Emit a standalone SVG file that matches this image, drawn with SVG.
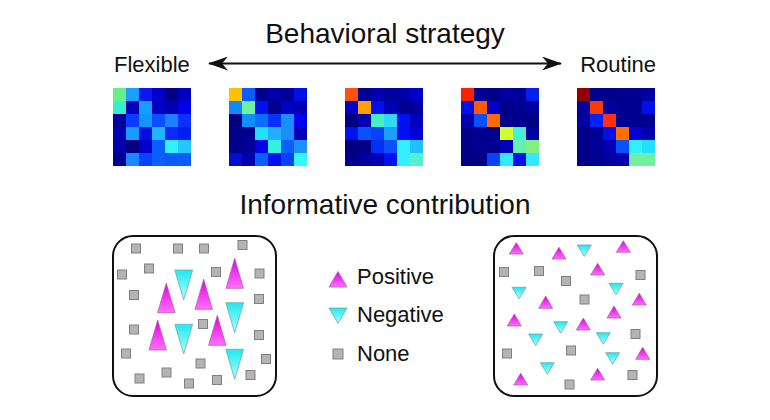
<svg xmlns="http://www.w3.org/2000/svg" width="770" height="420" viewBox="0 0 770 420">
<defs>
<style>
text{font-family:"Liberation Sans",Arial,sans-serif;fill:#111}
.t1{font-size:28px}
.t2{font-size:22px}
.frame{fill:#fff;stroke:#111;stroke-width:2}
.pos{fill:url(#gPos);stroke:#b060b0;stroke-width:0.8}
.neg{fill:url(#gNeg);stroke:#70a8a8;stroke-width:0.8}
.non{fill:#b4b4b4;stroke:#808080;stroke-width:1}
.hm rect{stroke:none}
.hmb{fill:none;stroke:#c8c8c8;stroke-width:0.8}
.conn{stroke:#111;stroke-width:2;fill:none}
</style>
<linearGradient id="gPos" x1="0" y1="0" x2="0" y2="1">
<stop offset="0" stop-color="#e000e0"/><stop offset="1" stop-color="#ff70ff"/>
</linearGradient>
<linearGradient id="gNeg" x1="0" y1="0" x2="0" y2="1">
<stop offset="0" stop-color="#20e8f0"/><stop offset="1" stop-color="#b0ffff"/>
</linearGradient>
<marker id="ah" markerUnits="userSpaceOnUse" markerWidth="20" markerHeight="14" refX="19" refY="7" orient="auto-start-reverse">
<path d="M0,0 L20,7 L0,14 L6,7 Z" fill="#111"/>
</marker>
</defs>
<rect width="770" height="420" fill="#fff"/>

<g id="title-strategy"><text class="t1" x="385" y="43" text-anchor="middle">Behavioral strategy</text></g>
<g id="label-flexible"><text class="t2" x="114" y="72">Flexible</text></g>
<g id="label-routine"><text class="t2" x="656" y="72" text-anchor="end">Routine</text></g>

<g id="connectors">
<line class="conn" x1="209" y1="63.5" x2="561" y2="63.5" marker-start="url(#ah)" marker-end="url(#ah)"/>
</g>

<g id="heatmap1" class="hm" transform="translate(113,88)">
<rect x="0" y="0" width="13" height="13" fill="#66ee88"/><rect x="13" y="0" width="13" height="13" fill="#1aa0ff"/><rect x="26" y="0" width="13" height="13" fill="#0a18f0"/><rect x="39" y="0" width="13" height="13" fill="#0000c8"/><rect x="52" y="0" width="13" height="13" fill="#000088"/><rect x="65" y="0" width="13" height="13" fill="#0000c0"/>
<rect x="0" y="13" width="13" height="13" fill="#33f0cc"/><rect x="13" y="13" width="13" height="13" fill="#0000b8"/><rect x="26" y="13" width="13" height="13" fill="#14a0ff"/><rect x="39" y="13" width="13" height="13" fill="#0000c0"/><rect x="52" y="13" width="13" height="13" fill="#0000b4"/><rect x="65" y="13" width="13" height="13" fill="#0000e6"/>
<rect x="0" y="26" width="13" height="13" fill="#00009c"/><rect x="13" y="26" width="13" height="13" fill="#0a3cff"/><rect x="26" y="26" width="13" height="13" fill="#1494ff"/><rect x="39" y="26" width="13" height="13" fill="#0a50ff"/><rect x="52" y="26" width="13" height="13" fill="#1a80ff"/><rect x="65" y="26" width="13" height="13" fill="#0830ff"/>
<rect x="0" y="39" width="13" height="13" fill="#0000b4"/><rect x="13" y="39" width="13" height="13" fill="#1a9cff"/><rect x="26" y="39" width="13" height="13" fill="#0010e0"/><rect x="39" y="39" width="13" height="13" fill="#22b4ff"/><rect x="52" y="39" width="13" height="13" fill="#0a28ff"/><rect x="65" y="39" width="13" height="13" fill="#0020f0"/>
<rect x="0" y="52" width="13" height="13" fill="#0000a8"/><rect x="13" y="52" width="13" height="13" fill="#000080"/><rect x="26" y="52" width="13" height="13" fill="#0000c8"/><rect x="39" y="52" width="13" height="13" fill="#0a60ff"/><rect x="52" y="52" width="13" height="13" fill="#33f0ff"/><rect x="65" y="52" width="13" height="13" fill="#22c8ff"/>
<rect x="0" y="65" width="13" height="13" fill="#000090"/><rect x="13" y="65" width="13" height="13" fill="#1a88ff"/><rect x="26" y="65" width="13" height="13" fill="#0a40ff"/><rect x="39" y="65" width="13" height="13" fill="#0a60ff"/><rect x="52" y="65" width="13" height="13" fill="#0a58ff"/><rect x="65" y="65" width="13" height="13" fill="#0a5cff"/>
<rect class="hmb" x="0" y="0" width="78" height="78"/>
</g>

<g id="heatmap2" class="hm" transform="translate(229,88)">
<rect x="0" y="0" width="13" height="13" fill="#ffc000"/><rect x="13" y="0" width="13" height="13" fill="#0a5cff"/><rect x="26" y="0" width="13" height="13" fill="#000090"/><rect x="39" y="0" width="13" height="13" fill="#0000a8"/><rect x="52" y="0" width="13" height="13" fill="#000098"/><rect x="65" y="0" width="13" height="13" fill="#0010e8"/>
<rect x="0" y="13" width="13" height="13" fill="#1088ff"/><rect x="13" y="13" width="13" height="13" fill="#70f0a0"/><rect x="26" y="13" width="13" height="13" fill="#0010f0"/><rect x="39" y="13" width="13" height="13" fill="#000090"/><rect x="52" y="13" width="13" height="13" fill="#0000c8"/><rect x="65" y="13" width="13" height="13" fill="#0000b0"/>
<rect x="0" y="26" width="13" height="13" fill="#000080"/><rect x="13" y="26" width="13" height="13" fill="#1090ff"/><rect x="26" y="26" width="13" height="13" fill="#0a70ff"/><rect x="39" y="26" width="13" height="13" fill="#0a30ff"/><rect x="52" y="26" width="13" height="13" fill="#1a90ff"/><rect x="65" y="26" width="13" height="13" fill="#0000f0"/>
<rect x="0" y="39" width="13" height="13" fill="#000088"/><rect x="13" y="39" width="13" height="13" fill="#000090"/><rect x="26" y="39" width="13" height="13" fill="#22e0ff"/><rect x="39" y="39" width="13" height="13" fill="#20b0ff"/><rect x="52" y="39" width="13" height="13" fill="#1a90ff"/><rect x="65" y="39" width="13" height="13" fill="#0000b8"/>
<rect x="0" y="52" width="13" height="13" fill="#000088"/><rect x="13" y="52" width="13" height="13" fill="#000098"/><rect x="26" y="52" width="13" height="13" fill="#0000e8"/><rect x="39" y="52" width="13" height="13" fill="#33f0e0"/><rect x="52" y="52" width="13" height="13" fill="#0a60ff"/><rect x="65" y="52" width="13" height="13" fill="#1a90ff"/>
<rect x="0" y="65" width="13" height="13" fill="#0010d0"/><rect x="13" y="65" width="13" height="13" fill="#0000b0"/><rect x="26" y="65" width="13" height="13" fill="#0a60ff"/><rect x="39" y="65" width="13" height="13" fill="#0010f0"/><rect x="52" y="65" width="13" height="13" fill="#0a40ff"/><rect x="65" y="65" width="13" height="13" fill="#33f8ff"/>
<rect class="hmb" x="0" y="0" width="78" height="78"/>
</g>

<g id="heatmap3" class="hm" transform="translate(345,88)">
<rect x="0" y="0" width="13" height="13" fill="#ff5010"/><rect x="13" y="0" width="13" height="13" fill="#000090"/><rect x="26" y="0" width="13" height="13" fill="#0000b0"/><rect x="39" y="0" width="13" height="13" fill="#0000a0"/><rect x="52" y="0" width="13" height="13" fill="#0000a8"/><rect x="65" y="0" width="13" height="13" fill="#0000c8"/>
<rect x="0" y="13" width="13" height="13" fill="#0000c8"/><rect x="13" y="13" width="13" height="13" fill="#ffa000"/><rect x="26" y="13" width="13" height="13" fill="#0010f0"/><rect x="39" y="13" width="13" height="13" fill="#0000b8"/><rect x="52" y="13" width="13" height="13" fill="#000090"/><rect x="65" y="13" width="13" height="13" fill="#000098"/>
<rect x="0" y="26" width="13" height="13" fill="#000080"/><rect x="13" y="26" width="13" height="13" fill="#0000b0"/><rect x="26" y="26" width="13" height="13" fill="#44f0c0"/><rect x="39" y="26" width="13" height="13" fill="#30d8ff"/><rect x="52" y="26" width="13" height="13" fill="#0010f0"/><rect x="65" y="26" width="13" height="13" fill="#0000c0"/>
<rect x="0" y="39" width="13" height="13" fill="#0010f0"/><rect x="13" y="39" width="13" height="13" fill="#0a50ff"/><rect x="26" y="39" width="13" height="13" fill="#0a40ff"/><rect x="39" y="39" width="13" height="13" fill="#1aa0ff"/><rect x="52" y="39" width="13" height="13" fill="#0010f0"/><rect x="65" y="39" width="13" height="13" fill="#0000d8"/>
<rect x="0" y="52" width="13" height="13" fill="#000080"/><rect x="13" y="52" width="13" height="13" fill="#000088"/><rect x="26" y="52" width="13" height="13" fill="#0030f0"/><rect x="39" y="52" width="13" height="13" fill="#0a50ff"/><rect x="52" y="52" width="13" height="13" fill="#33f0ff"/><rect x="65" y="52" width="13" height="13" fill="#20c0ff"/>
<rect x="0" y="65" width="13" height="13" fill="#000088"/><rect x="13" y="65" width="13" height="13" fill="#0000a0"/><rect x="26" y="65" width="13" height="13" fill="#0000b8"/><rect x="39" y="65" width="13" height="13" fill="#0010f0"/><rect x="52" y="65" width="13" height="13" fill="#33f0ff"/><rect x="65" y="65" width="13" height="13" fill="#55f0d0"/>
<rect class="hmb" x="0" y="0" width="78" height="78"/>
</g>

<g id="heatmap4" class="hm" transform="translate(461,88)">
<rect x="0" y="0" width="13" height="13" fill="#ff2000"/><rect x="13" y="0" width="13" height="13" fill="#000090"/><rect x="26" y="0" width="13" height="13" fill="#000088"/><rect x="39" y="0" width="13" height="13" fill="#0000a0"/><rect x="52" y="0" width="13" height="13" fill="#000098"/><rect x="65" y="0" width="13" height="13" fill="#0020f0"/>
<rect x="0" y="13" width="13" height="13" fill="#0010e8"/><rect x="13" y="13" width="13" height="13" fill="#ff5a00"/><rect x="26" y="13" width="13" height="13" fill="#0000c8"/><rect x="39" y="13" width="13" height="13" fill="#000088"/><rect x="52" y="13" width="13" height="13" fill="#000090"/><rect x="65" y="13" width="13" height="13" fill="#0000a0"/>
<rect x="0" y="26" width="13" height="13" fill="#0000b0"/><rect x="13" y="26" width="13" height="13" fill="#0a50ff"/><rect x="26" y="26" width="13" height="13" fill="#ff6a00"/><rect x="39" y="26" width="13" height="13" fill="#000088"/><rect x="52" y="26" width="13" height="13" fill="#000090"/><rect x="65" y="26" width="13" height="13" fill="#000080"/>
<rect x="0" y="39" width="13" height="13" fill="#000088"/><rect x="13" y="39" width="13" height="13" fill="#000090"/><rect x="26" y="39" width="13" height="13" fill="#000090"/><rect x="39" y="39" width="13" height="13" fill="#d0ff30"/><rect x="52" y="39" width="13" height="13" fill="#44f0d0"/><rect x="65" y="39" width="13" height="13" fill="#0000a0"/>
<rect x="0" y="52" width="13" height="13" fill="#000088"/><rect x="13" y="52" width="13" height="13" fill="#000090"/><rect x="26" y="52" width="13" height="13" fill="#000090"/><rect x="39" y="52" width="13" height="13" fill="#0000b8"/><rect x="52" y="52" width="13" height="13" fill="#66f0b0"/><rect x="65" y="52" width="13" height="13" fill="#80f080"/>
<rect x="0" y="65" width="13" height="13" fill="#000088"/><rect x="13" y="65" width="13" height="13" fill="#000088"/><rect x="26" y="65" width="13" height="13" fill="#0a40ff"/><rect x="39" y="65" width="13" height="13" fill="#33e8ff"/><rect x="52" y="65" width="13" height="13" fill="#0010f0"/><rect x="65" y="65" width="13" height="13" fill="#33e8ff"/>
<rect class="hmb" x="0" y="0" width="78" height="78"/>
</g>

<g id="heatmap5" class="hm" transform="translate(577,88)">
<rect x="0" y="0" width="13" height="13" fill="#900000"/><rect x="13" y="0" width="13" height="13" fill="#000090"/><rect x="26" y="0" width="13" height="13" fill="#000088"/><rect x="39" y="0" width="13" height="13" fill="#000090"/><rect x="52" y="0" width="13" height="13" fill="#000090"/><rect x="65" y="0" width="13" height="13" fill="#0000a0"/>
<rect x="0" y="13" width="13" height="13" fill="#0000a0"/><rect x="13" y="13" width="13" height="13" fill="#ff3a00"/><rect x="26" y="13" width="13" height="13" fill="#0000a0"/><rect x="39" y="13" width="13" height="13" fill="#000090"/><rect x="52" y="13" width="13" height="13" fill="#000090"/><rect x="65" y="13" width="13" height="13" fill="#0010e8"/>
<rect x="0" y="26" width="13" height="13" fill="#0000a0"/><rect x="13" y="26" width="13" height="13" fill="#0020ff"/><rect x="26" y="26" width="13" height="13" fill="#ff3010"/><rect x="39" y="26" width="13" height="13" fill="#000090"/><rect x="52" y="26" width="13" height="13" fill="#000090"/><rect x="65" y="26" width="13" height="13" fill="#000090"/>
<rect x="0" y="39" width="13" height="13" fill="#000088"/><rect x="13" y="39" width="13" height="13" fill="#000090"/><rect x="26" y="39" width="13" height="13" fill="#0010e8"/><rect x="39" y="39" width="13" height="13" fill="#ff7000"/><rect x="52" y="39" width="13" height="13" fill="#0000d0"/><rect x="65" y="39" width="13" height="13" fill="#0000b0"/>
<rect x="0" y="52" width="13" height="13" fill="#000088"/><rect x="13" y="52" width="13" height="13" fill="#000098"/><rect x="26" y="52" width="13" height="13" fill="#0000b0"/><rect x="39" y="52" width="13" height="13" fill="#0a50ff"/><rect x="52" y="52" width="13" height="13" fill="#33f0ff"/><rect x="65" y="52" width="13" height="13" fill="#20e0ff"/>
<rect x="0" y="65" width="13" height="13" fill="#000088"/><rect x="13" y="65" width="13" height="13" fill="#000090"/><rect x="26" y="65" width="13" height="13" fill="#0000a0"/><rect x="39" y="65" width="13" height="13" fill="#0000b0"/><rect x="52" y="65" width="13" height="13" fill="#70f0a0"/><rect x="65" y="65" width="13" height="13" fill="#70f0a0"/>
<rect class="hmb" x="0" y="0" width="78" height="78"/>
</g>

<g id="title-contribution"><text class="t1" x="385" y="214" text-anchor="middle">Informative contribution</text></g>

<g id="box-flexible">
<rect class="frame" x="113" y="236" width="163" height="160" rx="20" ry="20"/>
<rect class="non" x="131.5" y="244" width="9" height="9"/>
<rect class="non" x="173.5" y="244" width="9" height="9"/>
<rect class="non" x="199.5" y="244" width="9" height="9"/>
<rect class="non" x="238" y="240.5" width="9" height="9"/>
<rect class="non" x="144.5" y="264" width="9" height="9"/>
<rect class="non" x="117.5" y="270" width="9" height="9"/>
<rect class="non" x="211.5" y="267.5" width="9" height="9"/>
<rect class="non" x="255" y="269" width="9" height="9"/>
<rect class="non" x="129.5" y="290.5" width="9" height="9"/>
<rect class="non" x="254.5" y="294.5" width="9" height="9"/>
<rect class="non" x="129.5" y="325" width="9" height="9"/>
<rect class="non" x="198.5" y="319.5" width="9" height="9"/>
<rect class="non" x="254.5" y="330.5" width="9" height="9"/>
<rect class="non" x="121.5" y="349" width="9" height="9"/>
<rect class="non" x="261.5" y="354.5" width="9" height="9"/>
<rect class="non" x="196" y="359" width="9" height="9"/>
<rect class="non" x="162" y="368" width="9" height="9"/>
<rect class="non" x="135" y="374" width="9" height="9"/>
<rect class="non" x="246" y="370.5" width="9" height="9"/>
<rect class="non" x="212.5" y="375.5" width="9" height="9"/>
<rect class="non" x="184.5" y="379" width="9" height="9"/>
<polygon class="pos" points="234.7,258.3 243.4,288.3 226,288.3"/>
<polygon class="pos" points="166.3,283.3 175,312.7 157.6,312.7"/>
<polygon class="pos" points="203.7,279.3 212.4,309.3 195,309.3"/>
<polygon class="pos" points="157.7,320 166.4,350 149,350"/>
<polygon class="pos" points="217.3,315.3 226,345.3 208.6,345.3"/>
<polygon class="neg" points="174.8,270 192.6,270 183.7,300"/>
<polygon class="neg" points="225.8,302.7 243.6,302.7 234.7,332.7"/>
<polygon class="neg" points="174.8,324.3 192.6,324.3 183.7,354"/>
<polygon class="neg" points="225.8,349.3 243.6,349.3 234.7,379.3"/>
</g>

<g id="legend">
<g id="legend-positive"><polygon class="pos" points="338,271.5 347,287 329,287"/><text class="t2" x="357" y="284">Positive</text></g>
<g id="legend-negative"><polygon class="neg" points="329,308 347,308 338,323.5"/><text class="t2" x="357" y="322">Negative</text></g>
<g id="legend-none"><rect class="non" x="333" y="349" width="10" height="10"/><text class="t2" x="357" y="361">None</text></g>
</g>

<g id="box-routine">
<rect class="frame" x="494" y="236" width="163" height="160" rx="20" ry="20"/>
<rect class="non" x="499.5" y="267.5" width="9" height="9"/>
<rect class="non" x="534.5" y="266.5" width="9" height="9"/>
<rect class="non" x="561.5" y="276.5" width="9" height="9"/>
<rect class="non" x="636" y="270.5" width="9" height="9"/>
<rect class="non" x="580" y="295" width="9" height="9"/>
<rect class="non" x="631" y="329.5" width="9" height="9"/>
<rect class="non" x="502.5" y="349" width="9" height="9"/>
<rect class="non" x="566.5" y="346" width="9" height="9"/>
<rect class="non" x="628" y="370.5" width="9" height="9"/>
<rect class="non" x="565" y="380" width="9" height="9"/>
<polygon class="pos" points="516.3,242.7 523.3,254 509.3,254"/>
<polygon class="pos" points="559,247.3 566,259 552,259"/>
<polygon class="pos" points="623.3,240.7 630.3,252.3 616.3,252.3"/>
<polygon class="pos" points="597.7,263.3 604.7,275 590.7,275"/>
<polygon class="pos" points="545.7,296 552.7,308.3 538.7,308.3"/>
<polygon class="pos" points="639.3,293.3 646.3,305 632.3,305"/>
<polygon class="pos" points="614,306 621,318 607,318"/>
<polygon class="pos" points="514.3,314 521.3,326 507.3,326"/>
<polygon class="pos" points="583.3,318 590.3,330 576.3,330"/>
<polygon class="pos" points="642.7,347.3 649.7,359.3 635.7,359.3"/>
<polygon class="pos" points="520.7,373.3 527.7,385 513.7,385"/>
<polygon class="pos" points="597.7,368.3 604.7,380 590.7,380"/>
<polygon class="neg" points="577.3,245 591.3,245 584.3,256.5"/>
<polygon class="neg" points="609,283.3 623,283.3 616,294.8"/>
<polygon class="neg" points="512,287.3 526,287.3 519,298.8"/>
<polygon class="neg" points="553.7,321.7 567.7,321.7 560.7,333.3"/>
<polygon class="neg" points="528.7,334 542.7,334 535.7,345.7"/>
<polygon class="neg" points="596.3,332.7 610.3,332.7 603.3,344.3"/>
<polygon class="neg" points="605.7,352.7 619.7,352.7 612.7,364.2"/>
<polygon class="neg" points="540.3,362.7 554.3,362.7 547.3,374.3"/>
</g>
</svg>
